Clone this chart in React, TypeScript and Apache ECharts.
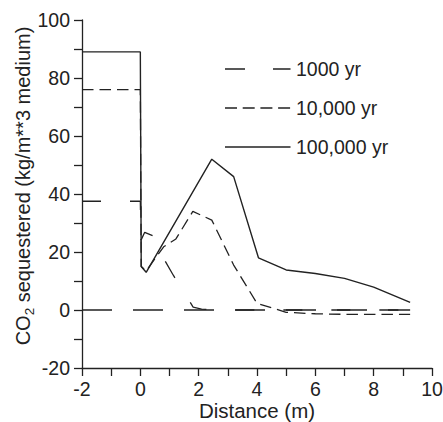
import React, { useEffect, useRef } from "react";
import * as echarts from "echarts";

// Distance (m) and CO2 sequestered (kg/m**3 medium) per curve
const dist1k = [-2, 0, 0.02, 0.15, 0.45, 0.7, 1.13, 1.59, 1.81, 2.1, 3, 9.25];
const co2_1k = [37.5, 37.5, 24, 26.8, 25.5, 19.5, 12, 4.6, 1, 0.3, 0, 0];

const dist10k = [-2, 0, 0.03, 0.2, 0.8, 1.22, 1.8, 2.45, 3.2, 4.0, 5.0, 6, 7, 8, 9.25];
const co2_10k = [76, 76, 15, 13.5, 21.8, 24.5, 34, 31, 15.5, 2.3, -0.8, -1.3, -1.5, -1.5, -1.5];

const dist100k = [-2, 0, 0.03, 0.2, 2.45, 3.2, 4.05, 5, 6, 7, 8, 9.25];
const co2_100k = [89, 89, 15, 13, 52, 46, 18, 13.8, 12.6, 10.9, 7.9, 2.6];

const distZero = [-2, 9.25];
const co2Zero = [0, 0];

const seriesNames = ["1000 yr", "10,000 yr", "100,000 yr"];
const xTicks = { min: -2, max: 10, interval: 2 };
const yTicks = { min: -20, max: 100, interval: 20 };

const zip = (xs: number[], ys: number[]) => xs.map((x, i) => [x, ys[i]]);

const FONT = "'Liberation Sans', Arial, sans-serif";
const INK = "#222";
const dash1k = [19, 29];
const dash10k = [11.5, 6];

export default function App() {
  const ref = useRef<HTMLDivElement>(null);
  useEffect(() => {
    if (!ref.current) return;
    const chart = echarts.init(ref.current, undefined, { renderer: "svg" });
    const lineBase = { type: "line", showSymbol: false, symbol: "none", silent: true };
    const legendRows = [
      { name: seriesNames[0], y: 69, dash: [20, 28] as number[] | null },
      { name: seriesNames[1], y: 108, dash: [12, 5.7] as number[] | null },
      { name: seriesNames[2], y: 147, dash: null as number[] | null },
    ];
    const legendGraphics: any[] = [];
    legendRows.forEach((r) => {
      legendGraphics.push({
        type: "line",
        shape: { x1: 225, y1: r.y, x2: 290.5, y2: r.y },
        style: { stroke: INK, lineWidth: 1.3, lineDash: r.dash || undefined },
        silent: true,
      });
      legendGraphics.push({
        type: "text",
        x: 296,
        y: r.y,
        style: {
          text: r.name,
          fill: INK,
          fontFamily: FONT,
          fontSize: 19.5,
          align: "left",
          verticalAlign: "middle",
        },
        silent: true,
      });
    });
    chart.setOption({
      animation: false,
      backgroundColor: "#fff",
      grid: {
        left: 82,
        right: 11,
        top: 20,
        bottom: 54,
        containLabel: false,
        outerBoundsMode: "none",
      },
      xAxis: {
        type: "value",
        min: xTicks.min,
        max: xTicks.max,
        interval: xTicks.interval,
        name: "Distance (m)",
        nameLocation: "middle",
        nameGap: 32,
        nameMoveOverlap: false,
        nameTextStyle: { fontSize: 20.5, fontFamily: FONT, color: INK, lineHeight: 20 },
        axisLine: { onZero: false, lineStyle: { color: INK, width: 1.3 } },
        axisTick: { show: true, length: 8, lineStyle: { color: INK, width: 1.3 } },
        minorTick: { show: true, splitNumber: 2, length: 8, lineStyle: { color: INK, width: 1.3 } },
        axisLabel: { fontSize: 19.5, fontFamily: FONT, color: INK, margin: 11, lineHeight: 20 },
        splitLine: { show: false },
      },
      yAxis: {
        type: "value",
        min: yTicks.min,
        max: yTicks.max,
        interval: yTicks.interval,
        axisLine: { show: true, onZero: false, lineStyle: { color: INK, width: 1.3 } },
        axisTick: { show: true, length: 8, lineStyle: { color: INK, width: 1.3 } },
        minorTick: { show: true, splitNumber: 2, length: 8, lineStyle: { color: INK, width: 1.3 } },
        axisLabel: { fontSize: 19.5, fontFamily: FONT, color: INK, margin: 12 },
        splitLine: { show: false },
      },
      graphic: [
        {
          type: "text",
          x: 23,
          y: 186,
          rotation: Math.PI / 2,
          silent: true,
          style: {
            text: "{a|CO}{s|2}{a| sequestered (kg/m**3 medium)}",
            align: "center",
            verticalAlign: "middle",
            fill: INK,
            fontFamily: FONT,
            fontSize: 20,
            rich: {
              a: { fontSize: 20, fontFamily: FONT, fill: INK, lineHeight: 26 },
              s: { fontSize: 13.5, fontFamily: FONT, fill: INK, verticalAlign: "bottom", lineHeight: 14 },
            },
          },
        },
        ...legendGraphics,
      ],
      series: [
        {
          ...lineBase,
          name: "zero",
          data: zip(distZero, co2Zero),
          lineStyle: { color: INK, width: 1.3, type: [30, 21] },
        },
        {
          ...lineBase,
          name: seriesNames[0],
          data: zip(dist1k, co2_1k),
          lineStyle: { color: INK, width: 1.3, type: dash1k },
        },
        {
          ...lineBase,
          name: seriesNames[1],
          data: zip(dist10k, co2_10k),
          lineStyle: { color: INK, width: 1.3, type: dash10k },
        },
        {
          ...lineBase,
          name: seriesNames[2],
          data: zip(dist100k, co2_100k),
          lineStyle: { color: INK, width: 1.4, type: "solid" },
        },
      ],
    });
    return () => chart.dispose();
  }, []);
  return <div ref={ref} style={{ width: 443, height: 422, position: "absolute", left: 0, top: 0 }} />;
}
